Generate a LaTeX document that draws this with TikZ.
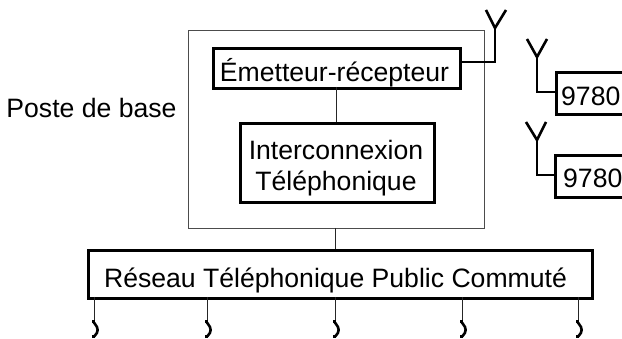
\documentclass[tikz,border=0pt]{standalone}
\usepackage{fontspec}
\setmainfont{Liberation Sans}
\tikzset{
  thick box/.style={draw=black,line width=2.6pt,fill=white},
  thin box/.style={draw=black!70,line width=1pt},
  thin link/.style={draw=black!85,line width=1pt},
  thick link/.style={draw=black,line width=2.6pt},
  label text/.style={font=\fontsize{26.6}{31}\selectfont,align=center,inner sep=0pt},
  handset/.style={draw=black,line width=2.6pt,line cap=round}
}
\newcommand{\rectnode}[6]{\node[#1,minimum width=#4pt,minimum height=#5pt,inner sep=0pt,anchor=north west] (#2) at #3 {#6};}
\newcommand{\phoneset}[2]{%
  \coordinate (#2top) at (#1,297);
  \coordinate (#2end) at (#1,320);
  \draw[thin link] (#2top) -- (#2end);
  \draw[handset] (#1-0.5,322) -- (#1+1,324) .. controls (#1+4.5,328) and (#1+4.5,332) .. (#1+1,335.5) -- (#1-0.5,337);
  \fill (#1-1.7,320.5) rectangle (#1+1,323.5);
  \fill (#1-1.7,335.5) rectangle (#1+1,338.5);
}
\begin{document}
\begin{tikzpicture}[x=1pt,y=-1pt]
\useasboundingbox (0,0) rectangle (622,339);
\begin{scope}
\clip (0,0) rectangle (622,339);
\rectnode{thin box}{base}{(188,30)}{296}{198}{}
\rectnode{thick box,label text}{trx}{(212,47)}{247}{40}{}
\node[label text,anchor=base] (trxt) at (334.5,82) {Émetteur-récepteur};
\rectnode{thick box,label text}{inter}{(239,122)}{194}{79}{}
\node[label text,anchor=base] (intert) at (336,160) {Interconnexion};
\node[label text,anchor=base] (intertb) at (336,191) {Téléphonique};
\rectnode{thick box,label text}{net}{(87,249)}{504}{48}{}
\node[label text,anchor=base] (nett) at (335.5,288) {Réseau Téléphonique Public Commuté};
\node[label text,anchor=base] (post) at (91.5,118) {Poste de base};
\rectnode{thick box,label text}{ma}{(555,71)}{80}{42}{}
\node[label text,anchor=base west] (mat) at (561,106) {9780};
\rectnode{thick box,label text}{mb}{(554,154)}{80}{42}{}
\node[label text,anchor=base west] (mbt) at (563,188) {9780};
\draw[thin link] (336,87) -- (inter.north -| 336,0);
\coordinate (netin) at (335,249);
\draw[thin link] (335,228) -- (netin);
\coordinate (a1) at (495,28);
\draw[thick link] (trx.east |- 0,62) -- (495,62) -- (a1);
\draw[thick link] (486,10) -- (a1) -- (506,10);
\coordinate (a2) at (537,57);
\draw[thick link] (ma.west |- 0,92) -- (537,92) -- (a2);
\draw[thick link] (527,39) -- (a2) -- (547,39);
\coordinate (a3) at (537,140);
\draw[thick link] (mb.west |- 0,175) -- (537,175) -- (a3);
\draw[thick link] (526,122) -- (a3) -- (546,122);
\phoneset{94}{p1}
\phoneset{207}{p2}
\phoneset{335}{p3}
\phoneset{462}{p4}
\phoneset{578}{p5}
\end{scope}
\end{tikzpicture}
\end{document}
